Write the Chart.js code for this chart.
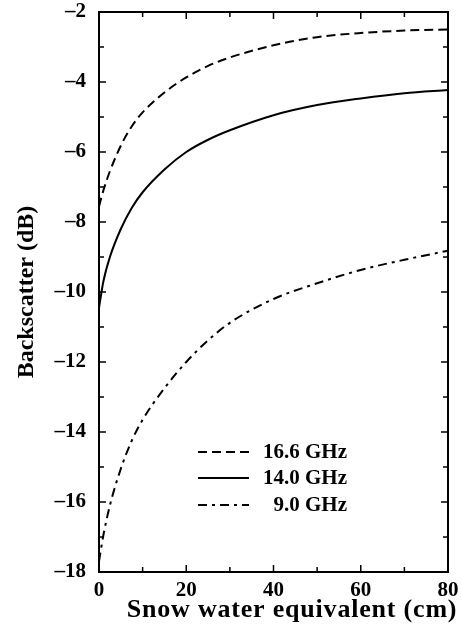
<!DOCTYPE html>
<html>
<head>
<meta charset="utf-8">
<script src="https://cdn.jsdelivr.net/npm/chart.js@4.4.1/dist/chart.umd.min.js"></script>
<style>
  html, body { margin: 0; padding: 0; background: #fff; }
  #wrap { width: 462px; height: 631px; }
</style>
</head>
<body>
<div id="wrap"><canvas id="chart" width="462" height="631"></canvas></div>
<script>
/* ===================== DATA ===================== */
const sweCm = [0, 1, 2.5, 5, 7.5, 10, 15, 20, 25, 30, 40, 50, 60, 70, 80];

const ghz166 = [-7.56, -7.1, -6.55, -5.82, -5.27, -4.87, -4.3, -3.87, -3.54, -3.3, -2.95, -2.72, -2.6, -2.53, -2.5];
const ghz140 = [-10.45, -9.7, -9.0, -8.2, -7.6, -7.15, -6.5, -6.0, -5.65, -5.38, -4.95, -4.66, -4.47, -4.32, -4.23];
const ghz90  = [-17.7, -16.95, -16.1, -15.05, -14.25, -13.65, -12.75, -12.0, -11.38, -10.88, -10.2, -9.75, -9.37, -9.08, -8.82];

const seriesLabels = ["16.6 GHz", "14.0 GHz", "9.0 GHz"];

const xTitle = "Snow water equivalent (cm)";
const yTitle = "Backscatter (dB)";

/* ===================== HELPERS ===================== */
const SERIF = "'Liberation Serif', 'Times New Roman', serif";

function toPoints(ys) {
  return sweCm.map((x, i) => ({ x: x, y: ys[i] }));
}

function fmtMinus(v) {
  return v < 0 ? "\u2013" + Math.abs(v) : String(v);
}

/* -------- frame + inward ticks + legend + x title -------- */
const framePlugin = {
  id: "frame",
  afterDatasetsDraw(chart) {
    const ctx = chart.ctx;
    const a = chart.chartArea;
    const xs = chart.scales.x, ys = chart.scales.y;
    ctx.save();
    ctx.strokeStyle = "#000";
    ctx.lineWidth = 2;
    ctx.strokeRect(a.left, a.top, a.right - a.left, a.bottom - a.top);

    ctx.lineWidth = 1.5;
    ctx.beginPath();
    for (let v = 10; v < 80; v += 10) {
      const px = xs.getPixelForValue(v);
      const len = v % 20 === 0 ? 7 : 5;
      ctx.moveTo(px, a.bottom); ctx.lineTo(px, a.bottom - len);
      ctx.moveTo(px, a.top); ctx.lineTo(px, a.top + len);
    }
    for (let v = -17; v < -2; v += 1) {
      const py = ys.getPixelForValue(v);
      const len = v % 2 === 0 ? 7 : 5;
      ctx.moveTo(a.left, py); ctx.lineTo(a.left + len, py);
      ctx.moveTo(a.right, py); ctx.lineTo(a.right - len, py);
    }
    ctx.stroke();

    // legend inside plot
    const rows = [452, 478, 505];
    chart.data.datasets.forEach((ds, i) => {
      const y = rows[i];
      ctx.strokeStyle = "#000";
      ctx.lineWidth = ds.borderWidth;
      ctx.setLineDash(ds.borderDash || []);
      ctx.beginPath();
      ctx.moveTo(198, y);
      ctx.lineTo(249, y);
      ctx.stroke();
      ctx.setLineDash([]);
      ctx.fillStyle = "#000";
      ctx.font = "bold 21px " + SERIF;
      ctx.textAlign = "right";
      ctx.textBaseline = "middle";
      ctx.fillText(ds.label, 347, y + 1);
    });

    // x title sits a bit right of the axis centre in the original
    ctx.fillStyle = "#000";
    ctx.font = "bold 26px " + SERIF;
    ctx.letterSpacing = "0.8px";
    ctx.textAlign = "center";
    ctx.textBaseline = "middle";
    ctx.fillText(xTitle, 292, 610);
    ctx.restore();
  }
};

/* ===================== CHART ===================== */
new Chart(document.getElementById("chart"), {
  type: "line",
  data: {
    datasets: [
      { label: seriesLabels[0], data: toPoints(ghz166), borderColor: "#000", borderWidth: 2, borderDash: [9, 5] },
      { label: seriesLabels[1], data: toPoints(ghz140), borderColor: "#000", borderWidth: 2 },
      { label: seriesLabels[2], data: toPoints(ghz90),  borderColor: "#000", borderWidth: 2, borderDash: [9, 5, 3, 5] }
    ]
  },
  options: {
    responsive: false,
    animation: false,
    layout: { padding: { top: 12, right: 14, bottom: 0, left: 0 } },
    elements: {
      point: { radius: 0 },
      line: { cubicInterpolationMode: "monotone", fill: false }
    },
    plugins: {
      legend: { display: false },
      tooltip: { enabled: false }
    },
    scales: {
      x: {
        type: "linear",
        min: 0, max: 80,
        grid: { display: false, drawTicks: false },
        border: { display: false },
        ticks: { stepSize: 20, color: "#000", padding: 6, font: { family: SERIF, size: 21, weight: "bold" } },
        title: { display: false, text: xTitle },
        afterFit(scale) {
          scale.height = 59;
          scale.paddingLeft = 0;
          scale.paddingRight = 0;
        }
      },
      y: {
        min: -18, max: -2,
        grid: { display: false, drawTicks: false },
        border: { display: false },
        ticks: { stepSize: 2, color: "#000", padding: 13, callback: fmtMinus, font: { family: SERIF, size: 21, weight: "bold" } },
        title: { display: true, text: yTitle, color: "#000", padding: { top: 12, bottom: 0 }, font: { family: SERIF, size: 24, weight: "bold" } },
        afterFit(scale) {
          scale.width = 99;
          scale.paddingTop = 0;
          scale.paddingBottom = 0;
        }
      }
    }
  },
  plugins: [framePlugin]
});
</script>
</body>
</html>
